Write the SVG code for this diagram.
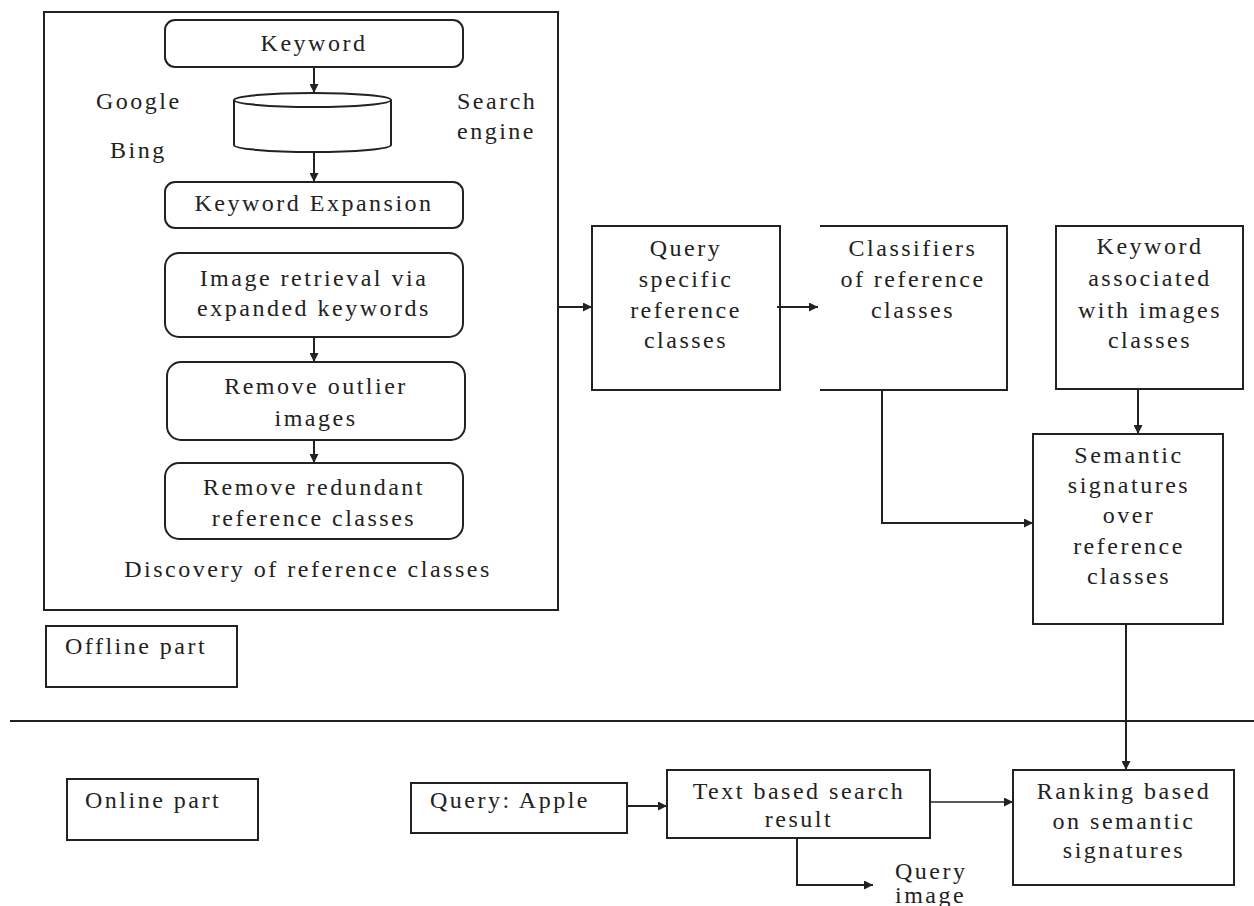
<svg xmlns="http://www.w3.org/2000/svg" width="1254" height="906" viewBox="0 0 1254 906">
<style>
.b{fill:#fff;stroke:#222;stroke-width:2}
.l{fill:none;stroke:#222;stroke-width:2}
.t{font-family:"Liberation Serif","Times New Roman",serif;font-size:24px;fill:#222;letter-spacing:2.5px}
.c{text-anchor:middle}
</style>
<defs>
<marker id="a" viewBox="0 0 10 10" refX="10" refY="5" markerWidth="11" markerHeight="9" markerUnits="userSpaceOnUse" orient="auto"><path d="M0,0L10,5L0,10z" fill="#222"/></marker>
</defs>
<rect width="1254" height="906" fill="#fff"/>
<g id="offline-frame"><rect class="b" x="44" y="12" width="514" height="598"/></g>
<g id="keyword"><rect class="b" x="165" y="20" width="298" height="47" rx="10"/><text class="t c" x="314" y="51">Keyword</text></g>
<g id="search-engine"><path class="b" d="M234,100 A78.5,7 0 0 1 391,100 L391,145 A78.5,7 0 0 1 234,145 Z"/><path class="l" d="M234,100 A78.5,7 0 0 0 391,100"/></g>
<g id="labels-engine"><text class="t" x="96" y="109">Google</text><text class="t" x="110" y="158">Bing</text><text class="t" x="457" y="109">Search</text><text class="t" x="457" y="139">engine</text></g>
<g id="keyword-expansion"><rect class="b" x="165" y="182" width="298" height="46" rx="10"/><text class="t c" x="314" y="211">Keyword Expansion</text></g>
<g id="image-retrieval"><rect class="b" x="165" y="253" width="298" height="84" rx="14"/><text class="t c" x="314" y="286">Image retrieval via</text><text class="t c" x="314" y="316">expanded keywords</text></g>
<g id="remove-outlier"><rect class="b" x="167" y="362" width="298" height="78" rx="14"/><text class="t c" x="316" y="394">Remove outlier</text><text class="t c" x="316" y="426">images</text></g>
<g id="remove-redundant"><rect class="b" x="165" y="463" width="298" height="76" rx="14"/><text class="t c" x="314" y="495">Remove redundant</text><text class="t c" x="314" y="526">reference classes</text></g>
<g id="discovery-label"><text class="t c" x="308" y="577">Discovery of reference classes</text></g>
<g id="offline-part"><rect class="b" x="46" y="626" width="191" height="61"/><text class="t" x="65" y="654">Offline part</text></g>
<g id="query-specific"><rect class="b" x="592" y="226" width="188" height="164"/><text class="t c" x="686" y="256">Query</text><text class="t c" x="686" y="287">specific</text><text class="t c" x="686" y="318">reference</text><text class="t c" x="686" y="348">classes</text></g>
<g id="classifiers"><path class="l" d="M820,226H1007V390H820"/><text class="t c" x="913" y="256">Classifiers</text><text class="t c" x="913" y="287">of reference</text><text class="t c" x="913" y="318">classes</text></g>
<g id="keyword-associated"><rect class="b" x="1056" y="226" width="187" height="163"/><text class="t c" x="1150" y="254">Keyword</text><text class="t c" x="1150" y="286">associated</text><text class="t c" x="1150" y="318">with images</text><text class="t c" x="1150" y="348">classes</text></g>
<g id="semantic-signatures"><rect class="b" x="1033" y="434" width="190" height="190"/><text class="t c" x="1129" y="463">Semantic</text><text class="t c" x="1129" y="493">signatures</text><text class="t c" x="1129" y="523">over</text><text class="t c" x="1129" y="554">reference</text><text class="t c" x="1129" y="584">classes</text></g>
<g id="divider"><line class="l" x1="10" y1="721" x2="1254" y2="721"/></g>
<g id="online-part"><rect class="b" x="67" y="779" width="191" height="61"/><text class="t" x="85" y="808">Online part</text></g>
<g id="query-apple"><rect class="b" x="411" y="783" width="216" height="50"/><text class="t" x="430" y="808">Query: Apple</text></g>
<g id="text-based"><rect class="b" x="667" y="770" width="263" height="68"/><text class="t c" x="799" y="799">Text based search</text><text class="t c" x="799" y="827">result</text></g>
<g id="ranking"><rect class="b" x="1013" y="770" width="221" height="115"/><text class="t c" x="1124" y="799">Ranking based</text><text class="t c" x="1124" y="829">on semantic</text><text class="t c" x="1124" y="858">signatures</text></g>
<g id="query-image"><text class="t" x="895" y="879">Query</text><text class="t" x="895" y="903">image</text></g>
<g id="connectors">
<line class="l" x1="314" y1="67" x2="314" y2="93" marker-end="url(#a)"/>
<line class="l" x1="314" y1="152" x2="314" y2="182" marker-end="url(#a)"/>
<line class="l" x1="314" y1="337" x2="314" y2="362" marker-end="url(#a)"/>
<line class="l" x1="314" y1="440" x2="314" y2="463" marker-end="url(#a)"/>
<line class="l" x1="558" y1="307" x2="592" y2="307" marker-end="url(#a)"/>
<line class="l" x1="777" y1="307" x2="818" y2="307" marker-end="url(#a)"/>
<path class="l" d="M882,390V523H1033" marker-end="url(#a)"/>
<line class="l" x1="1138" y1="389" x2="1138" y2="434" marker-end="url(#a)"/>
<line class="l" x1="1126" y1="624" x2="1126" y2="770" marker-end="url(#a)"/>
<line class="l" x1="627" y1="806" x2="667" y2="806" marker-end="url(#a)"/>
<path class="l" d="M797,838V885H873" marker-end="url(#a)"/>
<line class="l" style="stroke-width:1.5" x1="930" y1="802" x2="1013" y2="802" marker-end="url(#a)"/>
</g>
</svg>
